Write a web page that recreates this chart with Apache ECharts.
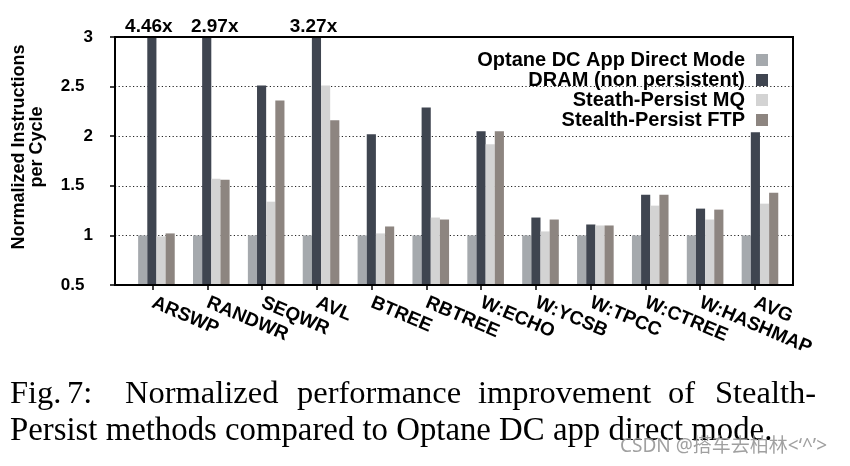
<!DOCTYPE html>
<html><head><meta charset="utf-8">
<script src="https://cdn.jsdelivr.net/npm/echarts@6/dist/echarts.min.js"></script>
<style>html,body{margin:0;padding:0;background:#fff}#c{width:850px;height:466px}</style>
</head><body><div id="c"></div>
<script>
const categories = ['ARSWP','RANDWR','SEQWR','AVL','BTREE','RBTREE','W:ECHO','W:YCSB','W:TPCC','W:CTREE','W:HASHMAP','AVG'];
const seriesNames = ['Optane DC App Direct Mode','DRAM (non persistent)','Steath-Persist MQ','Stealth-Persist FTP'];
const seriesColors = ['#a5a9ad','#3f4550','#d3d3d3','#8d8580'];
const optaneValues = [1,1,1,1,1,1,1,1,1,1,1,1];
const dramValues = [3,3,2.51,3,2.02,2.29,2.05,1.18,1.11,1.41,1.27,2.04];
const dramOverflowLabels = ['4.46x','2.97x','','3.27x','','','','','','','',''];
const mqValues = [0.99,1.57,1.34,2.51,1.02,1.18,1.92,1.04,1.10,1.30,1.16,1.32];
const ftpValues = [1.02,1.56,2.36,2.16,1.09,1.16,2.05,1.16,1.10,1.41,1.26,1.43];
const yMin = 0.5, yMax = 3, yStep = 0.5;
const yTitle = 'Normalized Instructions\nper Cycle';
const captionLine1 = ['Fig.','7:','Normalized','performance','improvement','of','Stealth-'];
const captionLine2 = 'Persist methods compared to Optane DC app direct mode.';
const watermark = 'CSDN @搭车去柏林<‘^’>';

// layout / style only
const captionLine1X = [10,67,125,297,478,668,715];
const overflowLabelShift = {'RANDWR': 8, 'ARSWP': -3, 'AVL': -3};

const SANS = 'Liberation Sans';
const chart = echarts.init(document.getElementById('c'), null, {renderer:'canvas'});
const allValues = [optaneValues, dramValues, mqValues, ftpValues];

const series = allValues.map((vals, i) => ({
  name: seriesNames[i], type: 'bar', xAxisIndex: 1, yAxisIndex: 1,
  data: i === 1 ? vals.map((v, k) => ({value: v, label: {offset: [overflowLabelShift[categories[k]] || 0, 0]}})) : vals,
  barWidth: 9.15, barGap: '0%',
  itemStyle: {color: seriesColors[i]},
  label: i === 1 ? {
    show: true, position: 'top', distance: 1,
    formatter: p => dramOverflowLabels[p.dataIndex],
    fontFamily: SANS, fontWeight: 'bold', fontSize: 19, color: '#000'
  } : {show: false}
}));

chart.setOption({
  animation: false,
  backgroundColor: '#fff',
  grid: [
    {left:115, right:57, top:37, bottom:181},
    {left:129, right:62.6, top:37, bottom:181},
    {left:125.3, right:67.7, top:37, bottom:181}
  ],
  xAxis: [
    {gridIndex:0, type:'category', data:categories, show:false},
    {gridIndex:1, type:'category', data:categories, show:false},
    {gridIndex:2, type:'category', data:categories,
      axisLine:{show:false},
      axisTick:{show:true, alignWithLabel:true, length:5, lineStyle:{color:'#000', width:1.5}},
      axisLabel:{interval:0, rotate:-23, margin:17, fontFamily:SANS, fontWeight:'bold', fontSize:19, color:'#000'}
    }
  ],
  yAxis: [
    {gridIndex:0, type:'value', min:yMin, max:yMax, interval:yStep,
      axisLine:{show:true, lineStyle:{color:'#000', width:2}},
      axisTick:{show:true, length:5, lineStyle:{color:'#000', width:1.5}},
      axisLabel:{margin:22, fontFamily:SANS, fontWeight:'bold', fontSize:17, color:'#000',
        formatter: v => Number.isInteger(v) ? String(v) : String(v) + '\u2002'},
      splitLine:{show:true, lineStyle:{color:'#222', width:1, type:[1.2,2.4]}}
    },
    {gridIndex:1, type:'value', min:yMin, max:yMax, interval:yStep, show:false, splitLine:{show:false}},
    {gridIndex:2, type:'value', min:yMin, max:yMax, interval:yStep, show:false, splitLine:{show:false}}
  ],
  legend: {
    orient:'vertical', right:82, top:50, align:'right', padding:0,
    itemWidth:12, itemHeight:12, itemGap:0, icon:'rect',
    data: seriesNames,
    textStyle:{fontFamily:SANS, fontWeight:'bold', fontSize:20, lineHeight:20, color:'#000', padding:[0,6,0,0]}
  },
  series: series,
  graphic: [
    {type:'rect', z:100, silent:true, shape:{x:115, y:37, width:678, height:248},
      style:{fill:null, stroke:'#000', lineWidth:2}},
    {type:'text', x:28, y:147, rotation:Math.PI/2, z:100,
      style:{text:yTitle, fill:'#000', font:'bold 18px "Liberation Sans"', lineHeight:18, align:'center', verticalAlign:'middle'}},
    ...captionLine1.map((w, i) => ({type:'text', x:captionLine1X[i], y:394, z:100,
      style:{text:w, fill:'#000', font:'32.5px "Liberation Serif"', align:'left', verticalAlign:'middle'}})),
    {type:'text', x:10, y:431, z:100,
      style:{text:captionLine2, fill:'#000', font:'32.8px "Liberation Serif"', align:'left', verticalAlign:'middle'}},
    {type:'text', x:620, y:447, z:101,
      style:{text:watermark, fill:'rgba(150,150,150,0.9)', font:'19px "Noto Sans", "Noto Sans CJK SC"', align:'left', verticalAlign:'middle'}}
  ]
});
</script></body></html>
